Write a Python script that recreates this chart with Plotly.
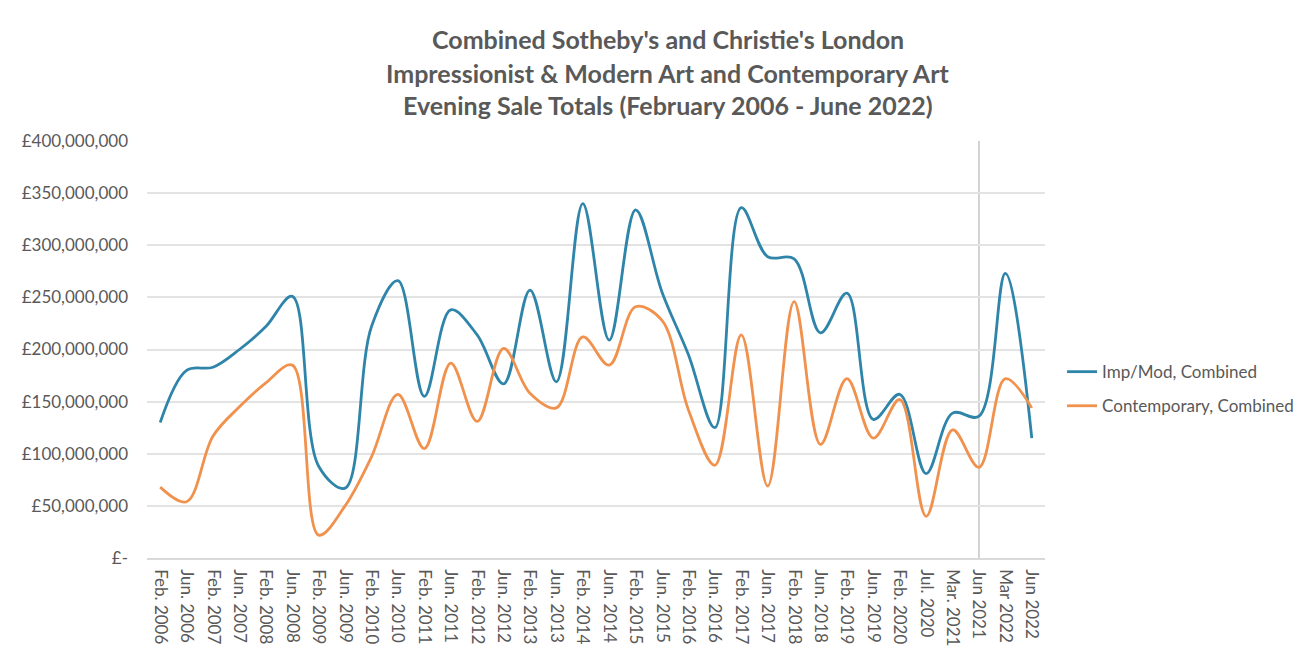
import plotly.graph_objects as go

categories = ["Feb. 2006", "Jun. 2006", "Feb. 2007", "Jun. 2007", "Feb. 2008", "Jun. 2008",
              "Feb. 2009", "Jun. 2009", "Feb. 2010", "Jun. 2010", "Feb. 2011", "Jun. 2011",
              "Feb. 2012", "Jun. 2012", "Feb. 2013", "Jun. 2013", "Feb. 2014", "Jun. 2014",
              "Feb. 2015", "Jun. 2015", "Feb. 2016", "Jun. 2016", "Feb. 2017", "Jun. 2017",
              "Feb. 2018", "Jun. 2018", "Feb. 2019", "Jun. 2019", "Feb. 2020", "Jul. 2020",
              "Mar. 2021", "Jun 2021", "Mar 2022", "Jun 2022"]

imp_mod = [130, 180, 183, 200, 222, 251, 88, 67, 222, 266, 155, 238,
           214, 167, 257, 169, 340, 209, 334, 255, 195, 125, 336, 289,
           287, 216, 254, 133, 157, 81, 139, 136, 273, 115]
imp_mod = [v * 1_000_000 for v in imp_mod]

contemporary = [68, 54, 117, 145, 168, 185, 22, 50, 97, 157, 105, 187,
                131, 201, 158, 144, 212, 185, 241, 228, 142, 89, 214, 69,
                246, 109, 172, 115, 152, 40, 123, 87, 172, 144]
contemporary = [v * 1_000_000 for v in contemporary]

y_tickvals = [0, 50_000_000, 100_000_000, 150_000_000, 200_000_000,
              250_000_000, 300_000_000, 350_000_000, 400_000_000]
y_ticktext = ["£-", "£50,000,000", "£100,000,000", "£150,000,000", "£200,000,000",
              "£250,000,000", "£300,000,000", "£350,000,000", "£400,000,000"]

title_lines = ["Combined Sotheby's and Christie's London",
               "Impressionist & Modern Art and Contemporary Art",
               "Evening Sale Totals (February 2006 - June 2022)"]

marker_category = "Jun 2021"

FONT = "Lato, 'Open Sans', sans-serif"
GREY = "#595959"

fig = go.Figure()
fig.add_trace(go.Scatter(x=categories, y=imp_mod, mode="lines", name="Imp/Mod, Combined",
                         legendgroup="a",
                         line=dict(color="#2f85a9", width=2.8, shape="spline", smoothing=1)))
fig.add_trace(go.Scatter(x=categories, y=contemporary, mode="lines", name="Contemporary, Combined",
                         legendgroup="b",
                         line=dict(color="#f0924e", width=2.8, shape="spline", smoothing=1)))

fig.add_shape(type="line", xref="x", yref="paper", x0=marker_category, x1=marker_category,
              y0=0, y1=1, line=dict(color="#c4c4c4", width=1.5), layer="below")

title_y = [1.245, 1.163, 1.086]
for txt, yy in zip(title_lines, title_y):
    fig.add_annotation(text="<b>" + txt + "</b>", xref="paper", yref="paper", x=0.58, y=yy,
                       xanchor="center", yanchor="middle", showarrow=False,
                       font=dict(family=FONT, size=25, color=GREY))

fig.update_layout(
    width=1299, height=644,
    margin=dict(l=139, r=262, t=133, b=94, autoexpand=False),
    paper_bgcolor="white", plot_bgcolor="white",
    font=dict(family=FONT, size=17, color=GREY),
    showlegend=True,
    legend=dict(x=1.019, y=0.405, xanchor="left", yanchor="middle",
                font=dict(family=FONT, size=17, color=GREY), tracegroupgap=9,
                bgcolor="rgba(0,0,0,0)"),
    xaxis=dict(type="category", range=[-0.5, len(categories) - 0.5], tickangle=90,
               showgrid=False, showline=True, linecolor="#d9d9d9", linewidth=1.5,
               ticks="", ticklabelstandoff=6, automargin=False,
               tickfont=dict(family=FONT, size=17, color=GREY)),
    yaxis=dict(range=[0, 400_000_000], tickvals=y_tickvals, ticktext=y_ticktext,
               showgrid=True, gridcolor="#e3e3e3", gridwidth=1.5, zeroline=False,
               showline=False, ticks="", ticklen=0, ticklabelstandoff=18, automargin=False,
               tickfont=dict(family=FONT, size=17, color=GREY)),
)

fig.write_html("out.html")
